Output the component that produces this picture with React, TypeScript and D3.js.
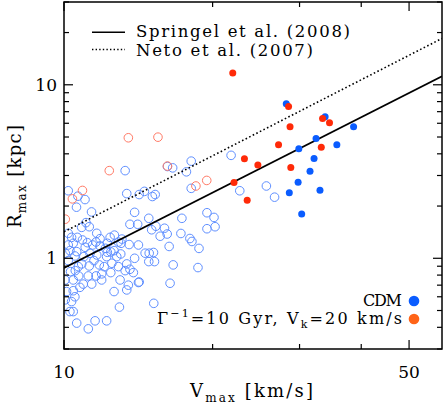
import React from 'react';
import * as d3 from 'd3';

const W = 446;
const H = 409;
const M = { left: 64, right: 442, top: 2, bottom: 349 };

// Axis ticks
const xMajor = [10, 50];
const xMinor = [20, 30, 40];
const yMajor = [1, 10];
const yMinor = [0.3, 0.4, 0.5, 0.6, 0.7, 0.8, 0.9, 2, 3, 4, 5, 6, 7, 8, 9, 20, 30];

// Model relations (Vmax [km/s], Rmax [kpc]) read at the plot edges
const springelLine: [number, number][] = [[10, 0.88], [58.3, 11.2]];
const netoLine: [number, number][] = [[10, 1.42], [58.3, 18.5]];

// CDM subhaloes (open blue)
const cdmOpen: [number, number][] = [
  [21.8, 3.92], [18.1, 3.63], [16.2, 3.38], [16.6, 3.32], [17.7, 3.15], [13.3, 3.2], [22.7, 2.45],
  [25.7, 2.61], [26.7, 2.25], [18.1, 2.53], [15.3, 2.33], [14.55, 2.43], [14.2, 2.33], [15.1, 2.27],
  [13.4, 2.36], [10.2, 2.45], [10.67, 2.28], [11.03, 2.18], [10.6, 1.97], [11.37, 1.85], [13.9, 1.84],
  [14.85, 1.7], [15.05, 1.46], [15.35, 1.53], [15.98, 1.49], [15.66, 1.34], [16.18, 1.38], [17.33, 1.7],
  [17.25, 1.39], [17.99, 1.3], [18.16, 1.25], [16.33, 1.17], [18.77, 1.14], [19.48, 1.83], [20.13, 1.72],
  [19.48, 1.48], [20.23, 1.52], [14.6, 1.07], [14.88, 1.07], [15.18, 1.08], [14.85, 0.957], [15.25, 0.957],
  [16.64, 0.916], [18.68, 0.884],
  [10.44, 0.75], [10.94, 0.71], [11.38, 0.71], [11.92, 0.75], [12.99, 0.75], [13.5, 0.7], [13.4, 0.657],
  [14.15, 0.725], [10.12, 0.643], [10.44, 0.65], [10.77, 0.68], [10.52, 0.6], [10.36, 0.563], [12.63, 0.643],
  [12.95, 0.523], [10.28, 0.493], [10.44, 0.493], [10.61, 0.423], [11.56, 0.436], [12.2, 0.436], [11.2, 0.392],
  [15.2, 0.55], [16.4, 0.718], [14.2, 0.73], [13.6, 0.864], [13.9, 1.0], [13.55, 1.2], [13.05, 1.22],
  [13.1, 1.29], [12.65, 1.36], [13.6, 1.57], [14.1, 1.57],
  [11.08, 1.605], [11.25, 1.52], [10.86, 1.507], [10.2, 1.393], [11.65, 1.393], [10.36, 1.32], [10.64, 1.32],
  [10.9, 1.275], [11.15, 1.23], [11.43, 1.193], [11.61, 1.24], [11.83, 1.178], [12.13, 1.142], [12.89, 1.24],
  [10.28, 1.107], [10.61, 1.092], [11.04, 1.157], [12.24, 1.083], [12.44, 1.088], [12.63, 1.107], [14.15, 1.193],
  [10.52, 1.031], [10.97, 1.022], [10.86, 0.928], [11.25, 0.903], [11.5, 0.97], [11.79, 0.916], [12.06, 0.895],
  [12.79, 1.022], [13.03, 1.059], [13.4, 0.928], [13.3, 0.849], [13.82, 0.827], [10.31, 0.838], [10.54, 0.849],
  [10.71, 0.791], [11.2, 0.791], [11.61, 0.791], [11.92, 0.813], [12.44, 0.827], [10.2, 1.193], [10.44, 1.22],
  [10.2, 0.97], [10.06, 0.576], [10.05, 0.75], [10.06, 1.068], [12.2, 1.022], [12.5, 0.936], [11.29, 1.068],
  [11.65, 1.045], [12.89, 0.895], [10.69, 0.895], [11.83, 1.297], [12.24, 1.22], [12.4, 1.32],
];

// Decaying DM subhaloes (open red)
const decayOpen: [number, number][] = [
  [13.5, 4.95], [15.5, 4.99], [12.35, 3.2], [16.2, 3.4], [19.46, 2.81], [18.5, 2.61], [10.9, 2.46],
  [10.4, 2.2], [10.06, 1.68],
];

// Filled (brightest) CDM subhaloes
const cdmFilled: [number, number][] = [
  [28.2, 7.78], [33.8, 6.55], [38.6, 5.72], [32.4, 4.91], [35.7, 4.51], [29.9, 4.28], [32.1, 3.76],
  [31.5, 3.17], [29.8, 2.74], [28.6, 2.39], [33.0, 2.47], [30.3, 1.8],
];

// Filled decaying-DM subhaloes
const decayFilled: [number, number][] = [
  [21.97, 11.7], [28.5, 7.5], [28.7, 5.72], [33.4, 6.4], [34.5, 6.04], [27.2, 4.51], [23.2, 3.75],
  [24.7, 3.45], [33.2, 4.36], [28.8, 3.34], [22.1, 2.73], [23.5, 2.16],
];

const FONT = '"DejaVu Serif", "Liberation Serif", serif';
const C_OPEN_BLUE = '#5f8fff';
const C_OPEN_RED = '#ff7a66';
const C_BLUE = '#0a5cff';
const C_RED = '#ff2a08';
const C_ORANGE = '#ff6418';

export default function App() {
  const x = d3.scaleLog().domain([10, 58.3]).range([M.left, M.right]);
  const y = d3.scaleLog().domain([0.3, 30]).range([M.bottom, M.top]);
  const line = d3.line<[number, number]>().x(d => x(d[0])).y(d => y(d[1]));

  return (
    <svg width={W} height={H} style={{ position: 'absolute', left: 0, top: 0, background: '#fff' }}
      fontFamily={FONT}>
      <defs>
        <clipPath id="plot">
          <rect x={M.left} y={M.top} width={M.right - M.left} height={M.bottom - M.top} />
        </clipPath>
      </defs>
      <rect x={0} y={0} width={W} height={H} fill="#fff" />
      <g clipPath="url(#plot)">
        {cdmOpen.map((d, i) => (
          <circle key={'co' + i} cx={x(d[0])} cy={y(d[1])} r={4.3} fill="none" stroke={C_OPEN_BLUE} strokeWidth={1} />
        ))}
        {decayOpen.map((d, i) => (
          <circle key={'do' + i} cx={x(d[0])} cy={y(d[1])} r={4.3} fill="none" stroke={C_OPEN_RED} strokeWidth={1} />
        ))}
        <path d={line(netoLine) || ''} fill="none" stroke="#000" strokeWidth={1.6} strokeDasharray="1.6,2.4" />
        <path d={line(springelLine) || ''} fill="none" stroke="#000" strokeWidth={1.8} />
        {cdmFilled.map((d, i) => (
          <circle key={'cf' + i} cx={x(d[0])} cy={y(d[1])} r={3.5} fill={C_BLUE} />
        ))}
        {decayFilled.map((d, i) => (
          <circle key={'df' + i} cx={x(d[0])} cy={y(d[1])} r={3.5} fill={C_RED} />
        ))}
      </g>
      {/* frame */}
      <rect x={M.left} y={M.top} width={M.right - M.left} height={M.bottom - M.top} fill="none" stroke="#000" strokeWidth={1.5} />
      {/* x ticks */}
      {xMajor.map(v => (
        <g key={'xM' + v}>
          <line x1={x(v)} x2={x(v)} y1={M.bottom} y2={M.bottom - 9} stroke="#000" strokeWidth={1.2} />
          <line x1={x(v)} x2={x(v)} y1={M.top} y2={M.top + 9} stroke="#000" strokeWidth={1.2} />
          <text x={x(v)} y={378} textAnchor="middle" fontSize={17}>{v}</text>
        </g>
      ))}
      {xMinor.map(v => (
        <g key={'xm' + v}>
          <line x1={x(v)} x2={x(v)} y1={M.bottom} y2={M.bottom - 5} stroke="#000" strokeWidth={1.2} />
          <line x1={x(v)} x2={x(v)} y1={M.top} y2={M.top + 5} stroke="#000" strokeWidth={1.2} />
        </g>
      ))}
      {/* y ticks */}
      {yMajor.map(v => (
        <g key={'yM' + v}>
          <line x1={M.left} x2={M.left + 9} y1={y(v)} y2={y(v)} stroke="#000" strokeWidth={1.2} />
          <line x1={M.right} x2={M.right - 9} y1={y(v)} y2={y(v)} stroke="#000" strokeWidth={1.2} />
          <text x={57} y={y(v) + 6} textAnchor="end" fontSize={17}>{v}</text>
        </g>
      ))}
      {yMinor.map(v => (
        <g key={'ym' + v}>
          <line x1={M.left} x2={M.left + 5} y1={y(v)} y2={y(v)} stroke="#000" strokeWidth={1.2} />
          <line x1={M.right} x2={M.right - 5} y1={y(v)} y2={y(v)} stroke="#000" strokeWidth={1.2} />
        </g>
      ))}
      {/* axis titles */}
      <text x={190} y={397} fontSize={18} textLength={123} lengthAdjust="spacing">
        V<tspan fontSize={12} dy={5}>max</tspan><tspan dy={-5}> [km/s]</tspan>
      </text>
      <text transform="translate(21,228) rotate(-90)" fontSize={18} textLength={103} lengthAdjust="spacing">
        R<tspan fontSize={12} dy={5}>max</tspan><tspan dy={-5}> [kpc]</tspan>
      </text>
      {/* top-left legend */}
      <line x1={92} x2={125} y1={32.3} y2={32.3} stroke="#000" strokeWidth={1.6} />
      <line x1={92} x2={125} y1={49.5} y2={49.5} stroke="#000" strokeWidth={1.5} strokeDasharray="1.4,2.2" />
      <text x={136} y={37} fontSize={16.5} textLength={214} lengthAdjust="spacing">Springel et al. (2008)</text>
      <text x={136} y={55.5} fontSize={16.5} textLength={177} lengthAdjust="spacing">Neto et al. (2007)</text>
      {/* bottom-right legend */}
      <text x={363} y={306} fontSize={16} textLength={39} lengthAdjust="spacing">CDM</text>
      <text x={157} y={323.5} fontSize={16} textLength={245} lengthAdjust="spacing">
        Γ<tspan fontSize={11} dy={-7}>−1</tspan><tspan dy={7}>=10 Gyr, V</tspan><tspan fontSize={11} dy={4}>k</tspan><tspan dy={-4}>=20 km/s</tspan>
      </text>
      <circle cx={414} cy={301} r={5.3} fill={C_BLUE} />
      <circle cx={414} cy={319} r={5.3} fill={C_ORANGE} />
    </svg>
  );
}
